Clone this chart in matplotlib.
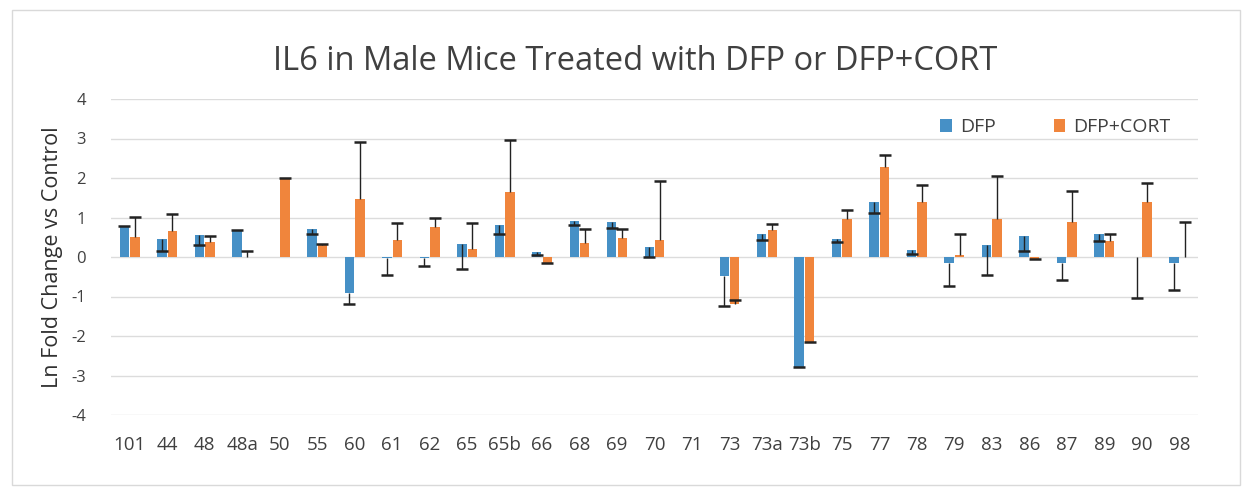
import matplotlib
matplotlib.use("Agg")
import matplotlib.pyplot as plt
import numpy as np
from matplotlib.patches import Rectangle

nan = float('nan')
categories = ['101', '44', '48', '48a', '50', '55', '60', '61', '62', '65', '65b', '66',
              '68', '69', '70', '71', '73', '73a', '73b', '75', '77', '78', '79', '83',
              '86', '87', '89', '90', '98']
dfp = [0.78, 0.45, 0.55, 0.68, nan, 0.70, -0.90, -0.02, -0.02, 0.32, 0.80, 0.12,
       0.92, 0.88, 0.25, nan, -0.47, 0.57, -2.78, 0.46, 1.38, 0.17, -0.14, 0.30,
       0.52, -0.15, 0.58, 0.0, -0.16]
dfp_err = [0.0, 0.30, 0.25, 0.0, nan, 0.12, 0.30, 0.43, 0.22, 0.62, 0.22, 0.08,
           0.12, 0.14, 0.25, nan, 0.76, 0.15, 0.0, 0.08, 0.27, 0.10, 0.60, 0.76,
           0.37, 0.42, 0.18, 1.05, 0.67]
cort = [0.50, 0.65, 0.38, 0.0, 2.00, 0.30, 1.48, 0.43, 0.77, 0.20, 1.64, -0.14,
        0.35, 0.48, 0.44, nan, -1.19, 0.69, -2.14, 0.96, 2.27, 1.38, 0.05, 0.95,
        -0.05, 0.88, 0.40, 1.39, 0.0]
cort_err = [0.52, 0.45, 0.15, 0.15, 0.0, 0.03, 1.42, 0.44, 0.23, 0.67, 1.32, 0.0,
            0.37, 0.22, 1.48, nan, 0.09, 0.14, 0.0, 0.22, 0.31, 0.45, 0.53, 1.09,
            0.0, 0.79, 0.18, 0.49, 0.88]
yticks = [-4, -3, -2, -1, 0, 1, 2, 3, 4]

W, H = 1247, 495
fig = plt.figure(figsize=(W / 100, H / 100), dpi=100)
fig.patch.set_facecolor('white')
plt.rcParams['font.family'] = ['Open Sans', 'DejaVu Sans']

ax = fig.add_axes([111 / W, 1 - 415 / H, (1198 - 111) / W, (415 - 99) / H])
x = np.arange(len(categories))
bw = 0.25
off = 0.14
blue = '#4690c6'
orange = '#f0853c'

ax.bar(x - off, dfp, bw, color=blue, label='DFP', zorder=2)
ax.bar(x + off, cort, bw, color=orange, label='DFP+CORT', zorder=2)

zeros = np.zeros(len(categories))
# DFP error bars point downward (minus), DFP+CORT error bars point upward (plus)
eb1 = ax.errorbar(x - off, dfp, yerr=[dfp_err, zeros], fmt='none',
                  ecolor='#222222', elinewidth=1.0, capsize=4.5, capthick=1.8, zorder=3)
eb2 = ax.errorbar(x + off, cort, yerr=[zeros, cort_err], fmt='none',
                  ecolor='#222222', elinewidth=1.0, capsize=4.5, capthick=1.8, zorder=3)
eb1[1][1].set_visible(False)   # no cap at the bar end for minus-only bars
eb2[1][0].set_visible(False)   # no cap at the bar end for plus-only bars

ax.set_xlim(-0.5, len(categories) - 0.5)
ax.set_ylim(-4, 4)
ax.set_yticks(yticks)
ax.set_yticklabels([str(t) for t in yticks], fontsize=12, color='#404040')
ax.set_xticks(x)
ax.set_xticklabels(categories, fontsize=13.5, color='#404040')
ax.tick_params(axis='both', length=0)
ax.tick_params(axis='x', pad=15)
ax.tick_params(axis='y', pad=18)
for s in ax.spines.values():
    s.set_visible(False)
ax.grid(axis='y', color='#dcdcdc', linewidth=1.0, zorder=0)
ax.set_axisbelow(True)
ax.set_ylabel('Ln Fold Change vs Control', fontsize=15.5, color='#303030', labelpad=6)

fig.text(635 / W, 1 - 61 / H, 'IL6 in Male Mice Treated with DFP or DFP+CORT',
         ha='center', va='center', fontsize=23.5, color='#404040')

leg = ax.legend(loc='upper right', bbox_to_anchor=(1188 / W, 1 - 101 / H),
                bbox_transform=fig.transFigure, ncol=2, frameon=False,
                fontsize=14, handlelength=0.6, handleheight=0.6,
                columnspacing=3.0, handletextpad=0.4)
for t in leg.get_texts():
    t.set_color('#404040')

fig.add_artist(Rectangle((12 / W, 1 - 485 / H), (1240 - 12) / W, (485 - 10) / H,
                         transform=fig.transFigure, fill=False,
                         edgecolor='#d9d9d9', linewidth=1.0))

fig.savefig('out.png', dpi=100)
